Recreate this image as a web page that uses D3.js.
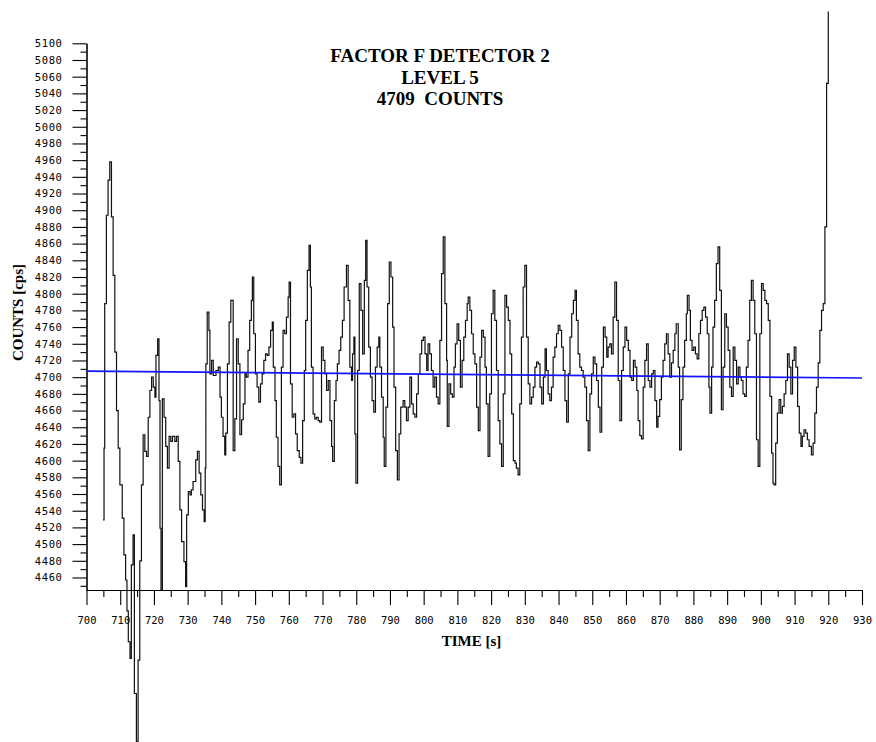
<!DOCTYPE html>
<html>
<head>
<meta charset="utf-8">
<script src="https://cdn.jsdelivr.net/npm/d3@7"></script>
<style>
  body { margin: 0; background: #fff; }
  svg { display: block; }
  .tick text { font-family: "DejaVu Sans Mono", monospace; font-size: 10.5px; fill: #000; }
  .lbl { font-family: "Liberation Serif", serif; font-weight: bold; fill: #000; }
</style>
</head>
<body>
<svg id="chart" width="876" height="742"></svg>
<script>
// titles and axis labels
const titleLines = ["FACTOR F DETECTOR 2", "LEVEL 5", "4709  COUNTS"];
const xLabel = "TIME [s]";
const yLabel = "COUNTS [cps]";

// tick labels
const xTicks = [700, 710, 720, 730, 740, 750, 760, 770, 780, 790, 800, 810, 820,
                830, 840, 850, 860, 870, 880, 890, 900, 910, 920, 930];
const yTicks = [4460, 4480, 4500, 4520, 4540, 4560, 4580, 4600, 4620, 4640, 4660,
                4680, 4700, 4720, 4740, 4760, 4780, 4800, 4820, 4840, 4860, 4880,
                4900, 4920, 4940, 4960, 4980, 5000, 5020, 5040, 5060, 5080, 5100];

const time = [
  704.9, 705.2, 705.4, 705.9, 706.4, 706.9, 707.4, 707.9, 708.4, 708.9, 709.4, 709.9,
  710.6, 711.1, 711.6, 712.0, 712.4, 712.9, 713.3, 713.8, 714.2, 714.8, 715.3, 715.8,
  716.3, 716.8, 717.3, 717.8, 718.3, 718.8, 719.3, 719.8, 720.3, 720.6, 721.1, 721.5,
  721.8, 722.1, 722.5, 723.0, 723.5, 724.0, 724.5, 725.0, 725.5, 726.2, 726.7, 727.2,
  727.7, 728.2, 728.9, 729.4, 729.7, 730.2, 730.7, 731.1, 731.6, 732.4, 732.9, 733.4,
  733.9, 734.4, 734.9, 735.2, 735.4, 735.8, 736.3, 736.6, 737.1, 737.6, 738.4, 739.1,
  739.6, 740.0, 740.5, 741.0, 741.3, 741.8, 742.3, 742.8,
  743.5, 744.0, 744.5, 745.0, 745.5, 746.0, 746.5, 747.0, 747.4, 747.9, 748.4, 748.9,
  749.2, 749.6, 750.1, 750.6, 751.1, 751.6, 752.1, 752.6, 753.1, 753.6, 754.1, 754.6,
  755.1, 755.4, 755.9, 756.3, 756.8, 757.3, 757.8, 758.3, 758.8, 759.3, 759.8, 760.1,
  760.5, 761.0, 761.5, 762.0, 762.5, 763.1, 763.6, 764.1, 764.6, 765.0, 765.5, 766.0,
  766.4, 766.7, 767.2, 767.7, 768.2, 768.7, 769.2, 769.7, 770.2, 770.7, 771.2, 771.7,
  772.2, 772.7, 773.0, 773.5, 774.0, 774.4, 774.9, 775.4, 775.9, 776.4, 777.1, 777.6,
  778.1, 778.6, 778.9, 779.3, 779.6, 779.9, 780.4, 780.9, 781.4, 781.9, 782.4, 782.8,
  783.2, 783.7, 784.2, 784.7, 785.2, 785.7, 786.2, 786.7, 787.0, 787.5, 788.0, 788.3,
  788.8, 789.3, 789.8, 790.3, 790.8, 791.2, 791.7, 792.2, 792.7, 793.2, 793.9, 794.4,
  794.9, 795.4, 795.9, 796.4, 796.9, 797.4, 797.9, 798.4, 798.9, 799.4, 799.9, 800.4,
  800.9, 801.3, 801.8, 802.3, 802.8, 803.3, 803.8, 804.3, 804.8, 805.3, 805.8, 806.3,
  806.8,
  807.0, 807.5, 808.0, 808.5, 809.0, 809.4, 809.9, 810.4, 810.9, 811.4, 811.9, 812.4,
  812.9, 813.2, 813.7, 814.2, 814.7, 815.2, 815.7, 816.2, 816.7, 817.2, 817.7, 818.2,
  818.6, 819.1, 819.6, 820.1, 820.6, 821.1, 821.6, 822.1, 822.6, 823.1, 823.6, 824.1,
  824.6, 825.1, 825.6, 826.1, 826.6, 827.1, 827.5, 828.0, 828.5, 829.0, 829.5, 830.0,
  830.5, 831.0, 831.5, 832.0, 832.5, 833.0, 833.5, 834.0, 834.5, 835.0, 835.5, 836.0,
  836.4, 836.9, 837.4, 837.9, 838.4, 838.9, 839.4, 839.9, 840.4, 840.9, 841.4, 841.9,
  842.4, 842.9, 843.4, 843.9, 844.4, 844.9, 845.3, 845.8, 846.3, 846.8, 847.3, 847.8,
  848.3, 848.8, 849.3, 849.8, 850.3, 850.8, 851.3, 851.8, 852.3, 852.8, 853.3, 853.8,
  854.3, 854.7, 855.2, 855.7, 856.2, 856.7, 857.2, 857.7, 858.2, 858.7, 859.2, 859.7,
  860.2, 860.7, 861.2, 861.7, 862.2, 862.7, 863.2, 863.6, 864.1, 864.6, 865.1, 865.6,
  866.1, 866.6, 867.1, 867.6, 868.1, 868.6, 869.1,
  869.5, 870.0, 870.5, 871.0, 871.5, 872.0, 872.5, 873.0, 873.5, 874.0, 874.5, 874.9,
  875.5, 875.9, 876.4, 876.9, 877.4, 877.9, 878.2, 878.7, 879.1, 879.6, 880.1, 880.6,
  881.1, 881.6, 882.1, 882.6, 883.1, 883.6, 884.1, 884.6, 884.9, 885.4, 885.8, 886.3,
  886.8, 887.3, 887.8, 888.3, 888.8, 889.3, 889.8, 890.3, 890.8, 891.3, 891.8, 892.3,
  892.8, 893.3, 893.8, 894.2, 894.7, 895.2, 895.7, 896.2, 896.7, 897.2, 897.7, 898.2,
  898.7, 899.2, 899.7, 900.2, 900.7, 901.2, 901.7, 902.2, 902.7, 903.2, 903.6, 903.9,
  904.4, 904.9, 905.4, 905.9, 906.4, 906.9, 907.4, 907.9, 908.4, 908.9, 909.4, 909.9,
  910.4, 910.9, 911.4, 911.9, 912.3, 912.8, 913.3, 913.8, 914.3, 915.0, 915.5, 916.0,
  916.5, 917.0, 917.5, 918.0, 918.5, 919.0, 919.5, 920.0
];
const counts = [
  4529, 4615, 4788, 4894, 4936, 4958, 4892, 4822, 4730, 4660, 4615, 4571,
  4531, 4487, 4457, 4420, 4383, 4363, 4475, 4511, 4321, 4263, 4361, 4480,
  4571, 4631, 4611, 4605, 4652, 4684, 4700, 4688, 4676, 4726, 4746, 4672,
  4519, 4445, 4674, 4652, 4617, 4591, 4629, 4623, 4629, 4623, 4629, 4599,
  4541, 4503, 4479, 4449, 4535, 4563, 4559, 4565, 4575, 4601, 4611, 4585,
  4559, 4541, 4527, 4591, 4716, 4778, 4756, 4704, 4720, 4702, 4708, 4712,
  4676, 4652, 4629, 4607, 4633, 4716, 4766, 4792,
  4612, 4650, 4746, 4716, 4631, 4649, 4668, 4704, 4700, 4732, 4768, 4792,
  4820, 4752, 4704, 4688, 4670, 4692, 4704, 4720, 4728, 4726, 4736, 4756,
  4766, 4712, 4672, 4628, 4593, 4571, 4712, 4756, 4752, 4772, 4796, 4814,
  4692, 4652, 4656, 4632, 4612, 4604, 4597, 4648, 4708, 4768, 4828, 4858,
  4808, 4712, 4656, 4650, 4652, 4648, 4646, 4736, 4720, 4704, 4684, 4696,
  4648, 4617, 4599, 4672, 4696, 4716, 4732, 4748, 4768, 4808, 4834, 4792,
  4712, 4696, 4728, 4748, 4632, 4573, 4708, 4812, 4780, 4728, 4816, 4864,
  4808, 4736, 4700, 4672, 4658, 4712, 4736, 4748, 4712, 4676, 4628, 4593,
  4664, 4788, 4838, 4820, 4760, 4688, 4612, 4577, 4632, 4664, 4672, 4664,
  4648, 4664, 4700, 4668, 4656, 4652, 4680, 4704, 4728, 4744, 4748, 4728,
  4708, 4740, 4728, 4708, 4688, 4700, 4676, 4668, 4744, 4824, 4868, 4788,
  4720,
  4641, 4692, 4680, 4676, 4712, 4740, 4764, 4744, 4688, 4720, 4748, 4768,
  4788, 4796, 4780, 4752, 4728, 4716, 4664, 4636, 4724, 4756, 4748, 4712,
  4668, 4605, 4680, 4776, 4804, 4768, 4708, 4648, 4620, 4593, 4680, 4798,
  4784, 4768, 4728, 4656, 4600, 4597, 4591, 4583, 4668, 4748, 4808, 4834,
  4748, 4692, 4668, 4676, 4688, 4712, 4718, 4716, 4688, 4668, 4700, 4734,
  4708, 4680, 4672, 4688, 4724, 4736, 4752, 4762, 4756, 4736, 4708, 4672,
  4646, 4704, 4748, 4776, 4792, 4804, 4768, 4728, 4712, 4708, 4700, 4688,
  4648, 4612, 4680, 4704, 4724, 4716, 4696, 4664, 4634, 4712, 4760, 4748,
  4724, 4736, 4740, 4728, 4772, 4814, 4768, 4696, 4648, 4708, 4736, 4760,
  4744, 4732, 4700, 4696, 4720, 4712, 4684, 4648, 4630, 4626, 4688, 4720,
  4740, 4696, 4688, 4704, 4708, 4672, 4640,
  4653, 4673, 4700, 4720, 4740, 4752, 4728, 4700, 4717, 4732, 4752, 4764,
  4712, 4613, 4673, 4712, 4744, 4776, 4798, 4780, 4744, 4732, 4736, 4728,
  4722, 4752, 4768, 4780, 4784, 4772, 4752, 4688, 4657, 4712, 4760, 4792,
  4836, 4856, 4804, 4661, 4712, 4776, 4760, 4732, 4688, 4677, 4736, 4720,
  4692, 4712, 4700, 4696, 4680, 4677, 4712, 4744, 4792, 4816, 4792, 4752,
  4625, 4593, 4752, 4812, 4804, 4792, 4788, 4768, 4677, 4609, 4573, 4571,
  4621, 4657, 4673, 4657, 4665, 4680, 4696, 4728, 4712, 4680, 4720, 4736,
  4712, 4665, 4633, 4617, 4629, 4637, 4633, 4625, 4617, 4607, 4621, 4657,
  4688, 4717, 4756, 4780, 4788, 4880, 5052, 5138
];

// blue reference line (end points)
const trendTime = [700, 930];
const trendCounts = [4707.2, 4699.0];

const svg = d3.select("#chart");

const x = d3.scaleLinear().domain([700, 930]).range([86.5, 862]);
const y = d3.scaleLinear().domain([4445, 5100]).range([590, 43.3]);

// minor ticks sit half way between labelled ones
const xMinor = xTicks.slice(0, -1).map(d => d + 5);
const yMinor = [4450].concat(yTicks.slice(0, -1).map(d => d + 10));

// x axis
svg.append("g")
    .attr("transform", "translate(0,590)")
    .call(d3.axisBottom(x).tickValues(xMinor).tickSize(7).tickSizeOuter(0).tickFormat(""));
svg.append("g")
    .attr("transform", "translate(0,590)")
    .call(d3.axisBottom(x).tickValues(xTicks).tickSize(15).tickSizeOuter(0)
        .tickPadding(12).tickFormat(d3.format("d")));

// y axis
svg.append("g")
    .attr("transform", "translate(86.5,0)")
    .call(d3.axisLeft(y).tickValues(yMinor).tickSize(6).tickSizeOuter(0).tickFormat(""));
svg.append("g")
    .attr("transform", "translate(86.5,0)")
    .call(d3.axisLeft(y).tickValues(yTicks).tickSize(14).tickSizeOuter(0)
        .tickPadding(10).tickFormat(d3.format("d")))
    .selectAll(".tick text").attr("letter-spacing", "0.6px");

svg.selectAll(".domain, .tick line").attr("stroke", "#000").attr("stroke-width", 1.1);

// signal, drawn as a staircase
const idx = d3.range(time.length);
const signal = d3.line()
    .x(i => x(time[i]))
    .y(i => y(counts[i]))
    .curve(d3.curveStepAfter);

svg.append("path")
    .datum(idx)
    .attr("d", signal)
    .attr("fill", "none")
    .attr("stroke", "#111")
    .attr("stroke-width", 1.2);

// trend line
const trend = d3.line()
    .x(i => x(trendTime[i]))
    .y(i => y(trendCounts[i]));

svg.append("path")
    .datum(d3.range(trendTime.length))
    .attr("d", trend)
    .attr("fill", "none")
    .attr("stroke", "#1414ff")
    .attr("stroke-width", 1.6);

// title block
svg.append("g")
    .selectAll("text")
    .data(titleLines)
    .join("text")
        .attr("class", "lbl")
        .attr("x", 440)
        .attr("y", (d, i) => 62 + i * 21.7)
        .attr("text-anchor", "middle")
        .attr("font-size", 19)
        .style("white-space", "pre")
        .text(d => d);

// axis labels
svg.append("text")
    .attr("class", "lbl")
    .attr("x", 471.5)
    .attr("y", 646)
    .attr("text-anchor", "middle")
    .attr("font-size", 15)
    .text(xLabel);

svg.append("text")
    .attr("class", "lbl")
    .attr("transform", "translate(23,312.5) rotate(-90)")
    .attr("text-anchor", "middle")
    .attr("font-size", 15)
    .text(yLabel);
</script>
</body>
</html>
